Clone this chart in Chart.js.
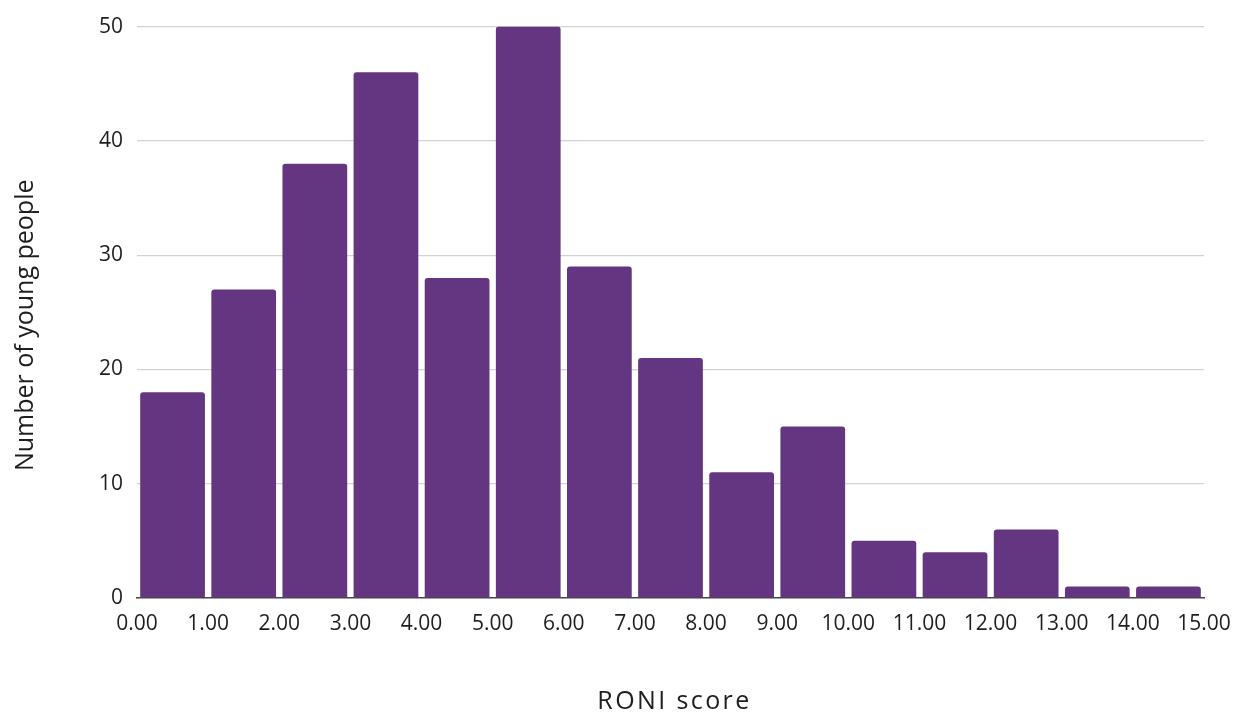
<!DOCTYPE html>
<html>
<head>
<meta charset="utf-8">
<script src="https://cdn.jsdelivr.net/npm/chart.js@4"></script>
<style>
html,body{margin:0;padding:0;background:#fff;}
#wrap{width:1233px;height:715px;}
</style>
</head>
<body>
<div id="wrap"><canvas id="c" width="1233" height="715"></canvas></div>
<script>
const binStarts = [0,1,2,3,4,5,6,7,8,9,10,11,12,13,14];
const counts = [18,27,38,46,28,50,29,21,11,15,5,4,6,1,1];
const yTicks = [0,10,20,30,40,50];
const xTitle = 'RONI score';
const yTitle = 'Number of young people';

const FONT = '"Open Sans", "Noto Sans", sans-serif';
const TEXT = '#1e1e1e';
const data = binStarts.map((s,i)=>({x:s+0.5,y:counts[i]}));

const axisTitles = {
  id:'axisTitles',
  afterDraw(chart){
    const ctx = chart.ctx, ca = chart.chartArea;
    ctx.save();
    ctx.fillStyle = TEXT;
    ctx.textAlign = 'center';
    ctx.textBaseline = 'middle';
    // y title
    ctx.font = '25px ' + FONT;
    ctx.save();
    ctx.translate(26, (ca.top + ca.bottom)/2 + 13);
    ctx.rotate(-Math.PI/2);
    ctx.fillText(yTitle, 0, 0);
    ctx.restore();
    // x title
    ctx.font = '25px ' + FONT;
    if ('letterSpacing' in ctx) ctx.letterSpacing = '2.4px';
    ctx.fillText(xTitle, (ca.left + ca.right)/2 + 4, 702);
    ctx.restore();
  }
};

new Chart(document.getElementById('c'), {
  type:'bar',
  data:{datasets:[{
    data:data,
    backgroundColor:'#643580',
    borderRadius:{topLeft:3,topRight:3,bottomLeft:0,bottomRight:0},
    borderSkipped:'bottom',
    barPercentage:0.91,
    categoryPercentage:1.0
  }]},
  plugins:[axisTitles],
  options:{
    responsive:false,
    animation:false,
    devicePixelRatio:1,
    layout:{padding:{left:0,right:0,top:14,bottom:0}},
    plugins:{legend:{display:false},tooltip:{enabled:false}},
    scales:{
      x:{
        type:'linear',
        min:0,max:15,offset:false,
        afterFit:(s)=>{s.paddingRight=29;s.paddingLeft=0;s.height=117;},
        grid:{display:false,drawTicks:false},
        border:{display:true,color:'#444',width:1.5},
        ticks:{stepSize:1,padding:13,color:TEXT,maxRotation:0,autoSkip:false,
          font:{family:FONT,size:21},
          callback:(v)=>Number(v).toFixed(2)},
        title:{display:false}
      },
      y:{
        min:0,max:50,
        afterBuildTicks:(s)=>{s.ticks=yTicks.map(v=>({value:v}));},
        afterFit:(s)=>{s.width=137;},
        grid:{color:(ctx)=>ctx.tick && ctx.tick.value===0?'rgba(0,0,0,0)':'#d2d2d2',lineWidth:1.2,drawTicks:false},
        border:{display:false},
        ticks:{padding:14,color:TEXT,font:{family:FONT,size:21}},
        title:{display:false}
      }
    }
  }
});
</script>
</body>
</html>
